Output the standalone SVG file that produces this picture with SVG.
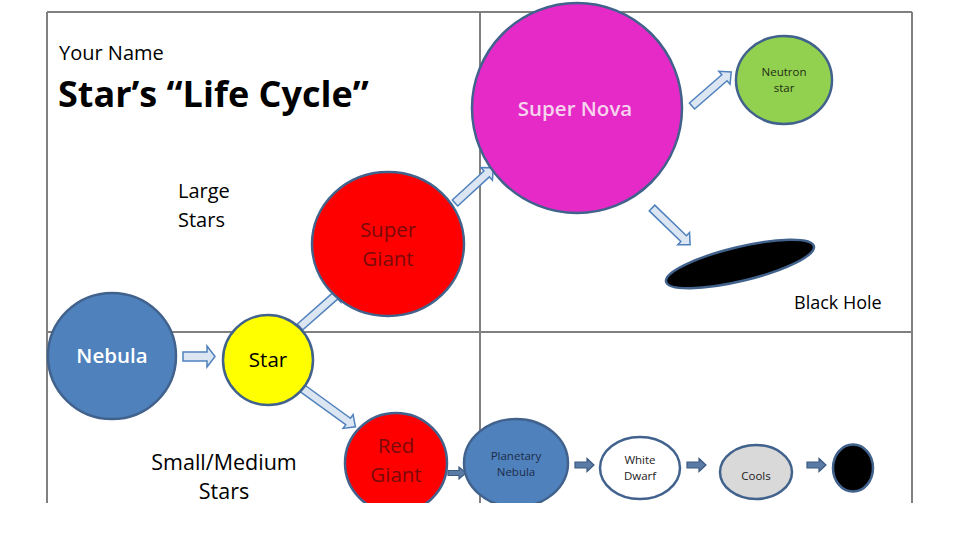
<svg xmlns="http://www.w3.org/2000/svg" width="960" height="540" viewBox="0 0 960 540">
<style>
text{font-family:"Open Sans","Liberation Sans",sans-serif}
.grid{stroke:#808080;stroke-width:2;fill:none}
.node{stroke:#41628C;stroke-width:2.5}
.big{font-size:20.5px;text-anchor:middle}
.sm{font-size:11.5px;text-anchor:middle}
.lbl{font-size:20px;fill:#000}
.la{fill:#DCE6F2;stroke:#4F81BD;stroke-width:1.5}
.da{fill:#5A7BA6;stroke:#3D5A80;stroke-width:1.2}
</style>
<defs>
<clipPath id="page"><rect x="0" y="0" width="960" height="503"/></clipPath>
</defs>
<rect width="960" height="540" fill="#fff"/>
<g clip-path="url(#page)">
<g id="grid">
<line class="grid" x1="47" y1="12" x2="912" y2="12"/>
<line class="grid" x1="47" y1="12" x2="47" y2="503"/>
<line class="grid" x1="480" y1="12" x2="480" y2="503"/>
<line class="grid" x1="912" y1="12" x2="912" y2="503"/>
<line class="grid" x1="47" y1="332" x2="912" y2="332"/>
</g>
<g id="labels">
<text x="59" y="60" style="font-size:20px">Your Name</text>
<text x="58" y="107" style="font-size:36px;font-weight:bold">Star’s “Life Cycle”</text>
<text class="lbl" x="178" y="198">Large</text>
<text class="lbl" x="178" y="227">Stars</text>
<text class="lbl" x="224" y="470" text-anchor="middle" style="font-size:21.5px">Small/Medium</text>
<text class="lbl" x="224" y="499" text-anchor="middle" style="font-size:21.5px">Stars</text>
<text class="lbl" x="794" y="309" style="font-size:18px">Black Hole</text>
</g>
<g id="connectors">
<path class="la" transform="translate(183,356.5)" d="M0,-4.5 L24,-4.5 L24,-10.5 L32,0 L24,10.5 L24,4.5 L0,4.5 Z"/>
<path class="la" transform="translate(300,327) rotate(-41.4)" d="M0,-4 L47,-4 L47,-8.5 L56,0 L47,8.5 L47,4 L0,4 Z"/>
<path class="la" transform="translate(455,203) rotate(-42.6)" d="M0,-4 L43,-4 L43,-8.5 L52,0 L43,8.5 L43,4 L0,4 Z"/>
<path class="la" transform="translate(692,106) rotate(-41)" d="M0,-4 L43,-4 L43,-8.5 L52,0 L43,8.5 L43,4 L0,4 Z"/>
<path class="la" transform="translate(652,208) rotate(44)" d="M0,-4 L44,-4 L44,-8.5 L53,0 L44,8.5 L44,4 L0,4 Z"/>
<path class="la" transform="translate(302,388) rotate(36)" d="M0,-4 L57,-4 L57,-8.5 L66,0 L57,8.5 L57,4 L0,4 Z"/>
<path class="da" transform="translate(448,473)" d="M0,-2.5 L11,-2.5 L11,-6 L18,0 L11,6 L11,2.5 L0,2.5 Z"/>
<path class="da" transform="translate(575,465)" d="M0,-3 L12,-3 L12,-6.5 L19,0 L12,6.5 L12,3 L0,3 Z"/>
<path class="da" transform="translate(687,465)" d="M0,-3 L12,-3 L12,-6.5 L19,0 L12,6.5 L12,3 L0,3 Z"/>
<path class="da" transform="translate(807,465)" d="M0,-3 L12,-3 L12,-6.5 L19,0 L12,6.5 L12,3 L0,3 Z"/>
</g>
<g id="nebula">
<ellipse class="node" cx="112" cy="356" rx="64" ry="63" fill="#4F81BD"/>
<text class="big" x="112" y="363" fill="#fff" font-weight="600">Nebula</text>
</g>
<g id="star">
<circle class="node" cx="268" cy="360" r="45" fill="#FFFF00"/>
<text class="big" x="268" y="367" fill="#000">Star</text>
</g>
<g id="super-giant">
<ellipse class="node" cx="388" cy="244" rx="76" ry="72" fill="#FF0000"/>
<text class="big" x="388" y="237" fill="#7A0A0A">Super</text>
<text class="big" x="388" y="266" fill="#7A0A0A">Giant</text>
</g>
<g id="super-nova">
<circle class="node" cx="577" cy="108" r="105" fill="#E62AC8" stroke="#4F4F8F"/>
<text class="big" x="575" y="116" fill="#F6D4EE" font-weight="600">Super Nova</text>
</g>
<g id="neutron-star">
<ellipse class="node" cx="784" cy="80" rx="48" ry="44" fill="#92D050"/>
<text class="sm" x="784" y="76" fill="#1E2E14">Neutron</text>
<text class="sm" x="784" y="92" fill="#1E2E14">star</text>
</g>
<g id="black-hole">
<ellipse class="node" cx="740" cy="264" rx="76" ry="17" transform="rotate(-13.5 740 264)" fill="#000"/>
</g>
<g id="red-giant">
<ellipse class="node" cx="396" cy="463" rx="51" ry="50" fill="#FF0000"/>
<text class="big" x="396" y="453" fill="#7A0A0A">Red</text>
<text class="big" x="396" y="482" fill="#7A0A0A">Giant</text>
</g>
<g id="planetary-nebula">
<ellipse class="node" cx="516" cy="463" rx="52" ry="44" fill="#4F81BD"/>
<text class="sm" x="516" y="460" fill="#1C2C48">Planetary</text>
<text class="sm" x="516" y="476" fill="#1C2C48">Nebula</text>
</g>
<g id="white-dwarf">
<ellipse class="node" cx="640" cy="468" rx="40" ry="31" fill="#fff" stroke-width="3"/>
<text class="sm" x="640" y="464" fill="#222">White</text>
<text class="sm" x="640" y="480" fill="#222">Dwarf</text>
</g>
<g id="cools">
<ellipse class="node" cx="756" cy="472" rx="36" ry="27" fill="#D9D9D9" stroke-width="3"/>
<text class="sm" x="756" y="480" fill="#222">Cools</text>
</g>
<g id="dark-remnant">
<ellipse class="node" cx="853" cy="468" rx="20" ry="23.5" fill="#000" stroke="#3B4E6B" stroke-width="3"/>
</g>
</g>
</svg>
